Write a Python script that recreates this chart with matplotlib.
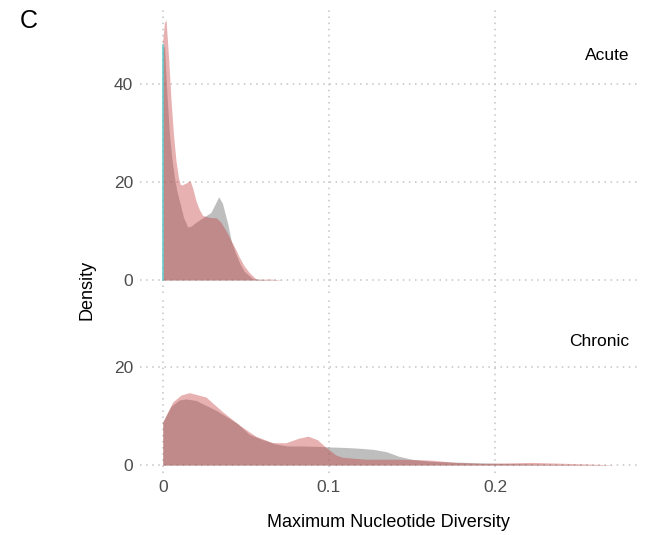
import matplotlib
matplotlib.use("Agg")
import matplotlib.pyplot as plt

plt.rcParams["font.family"] = ["Liberation Sans", "DejaVu Sans"]

# ── Data (density curves) ────────────────────────────────────────────────────
acute_grey_x = [0.000, 0.001, 0.0025, 0.004, 0.0055, 0.007, 0.0085, 0.010, 0.0125,
                0.0151, 0.0175, 0.020, 0.025, 0.029, 0.0315, 0.0337, 0.036,
                0.0375, 0.0392, 0.0412, 0.044, 0.0465, 0.049, 0.054, 0.062, 0.075]
acute_grey_y = [47.0, 47.9, 38.0, 29.8, 24.8, 21.0, 18.2, 16.2, 12.8,
                10.8, 11.1, 11.8, 12.9, 13.8, 15.5, 17.0, 15.6,
                13.6, 11.4, 8.0, 5.3, 3.3, 1.8, 0.3, 0.05, 0.0]

acute_pink_x = [0.000, 0.001, 0.002, 0.0035, 0.005, 0.0065, 0.008, 0.0095, 0.0105,
                0.0115, 0.014, 0.0165, 0.018, 0.020, 0.022, 0.024, 0.028, 0.0322,
                0.035, 0.0382, 0.0412, 0.044, 0.0462, 0.049, 0.0522, 0.0563,
                0.065, 0.072]
acute_pink_y = [48.9, 52.5, 53.1, 45.5, 36.7, 29.5, 24.3, 20.8, 19.6,
                19.4, 19.8, 20.3, 18.8, 16.2, 14.4, 13.2, 12.8, 12.7,
                11.8, 10.0, 8.0, 6.2, 4.6, 2.9, 1.5, 0.15,
                0.2, 0.0]

acute_cyan_x = [0.0, 0.0]
acute_cyan_y = [0.0, 47.9]

chronic_grey_x = [0.000, 0.005, 0.010, 0.014, 0.020, 0.032, 0.045, 0.052, 0.060,
                  0.068, 0.075, 0.085, 0.095, 0.100, 0.110, 0.120, 0.127, 0.135,
                  0.142, 0.150, 0.162, 0.182, 0.203, 0.225, 0.245, 0.265, 0.272]
chronic_grey_y = [8.8, 12.0, 13.3, 13.5, 13.2, 11.2, 8.5, 6.3, 5.2,
                  4.3, 3.9, 3.9, 3.8, 3.7, 3.6, 3.4, 3.2, 2.7,
                  1.8, 1.2, 0.75, 0.55, 0.35, 0.2, 0.1, 0.03, 0.0]

chronic_pink_x = [0.000, 0.006, 0.011, 0.016, 0.026, 0.036, 0.046, 0.056, 0.066,
                  0.074, 0.082, 0.0875, 0.093, 0.098, 0.104, 0.108, 0.122, 0.142,
                  0.162, 0.176, 0.192, 0.208, 0.222, 0.243, 0.263, 0.272]
chronic_pink_y = [8.8, 12.9, 14.3, 14.8, 13.9, 10.9, 8.2, 5.9, 4.6,
                  4.55, 5.5, 5.9, 5.2, 3.7, 2.1, 1.6, 1.2, 1.2,
                  1.0, 0.55, 0.35, 0.45, 0.55, 0.35, 0.15, 0.0]

# ── Style ────────────────────────────────────────────────────────────────────
GREY = "#7F7F7F"
PINK = "#C53C3C"
CYAN = "#5CCBCB"
GRID = "#C4C4C4"
TICK = "#4D4D4D"
XLIM = (-0.0137, 0.2855)

fig = plt.figure(figsize=(6.65, 5.35), dpi=100)
ax_top = fig.add_axes([0.2105, 0.4523, 0.7474, 0.5346])
ax_bot = fig.add_axes([0.2105, 0.1159, 0.7474, 0.3252])


def style(ax, yticks, ylim):
    ax.set_xlim(*XLIM)
    ax.set_ylim(*ylim)
    ax.set_xticks([0, 0.1, 0.2])
    ax.set_yticks(yticks)
    ax.set_yticklabels([str(t) for t in yticks])
    for s in ax.spines.values():
        s.set_visible(False)
    ax.grid(True, color=GRID, linestyle=(0, (1, 3)), linewidth=1.1)
    ax.set_axisbelow(True)
    ax.tick_params(length=0, labelsize=12.5, labelcolor=TICK, pad=5)


# top panel: Acute
style(ax_top, [0, 20, 40], (-2.655, 55.755))
ax_top.fill_between(acute_grey_x, acute_grey_y, 0, color=GREY, alpha=0.5, linewidth=0)
ax_top.fill_between(acute_pink_x, acute_pink_y, 0, color=PINK, alpha=0.4, linewidth=0)
ax_top.plot(acute_cyan_x, acute_cyan_y, color=CYAN, alpha=0.9, linewidth=1.2)
ax_top.tick_params(labelbottom=False)
ax_top.text(0.985, 0.832, "Acute", transform=ax_top.transAxes, ha="right",
            va="center", fontsize=12.5)

# bottom panel: Chronic
style(ax_bot, [0, 20], (-1.615, 33.915))
ax_bot.fill_between(chronic_grey_x, chronic_grey_y, 0, color=GREY, alpha=0.5, linewidth=0)
ax_bot.fill_between(chronic_pink_x, chronic_pink_y, 0, color=PINK, alpha=0.4, linewidth=0)
ax_bot.set_xticklabels(["0", "0.1", "0.2"])
ax_bot.text(0.985, 0.757, "Chronic", transform=ax_bot.transAxes, ha="right",
            va="center", fontsize=12.5)
ax_bot.set_xlabel("Maximum Nucleotide Diversity", fontsize=13, labelpad=14)

fig.text(87 / 665, 1 - 290 / 535, "Density", rotation=90, ha="center",
         va="center", fontsize=13)
fig.text(20 / 665, 1 - 21 / 535, "C", ha="left", va="center", fontsize=18)

fig.savefig("out.png", dpi=100)
